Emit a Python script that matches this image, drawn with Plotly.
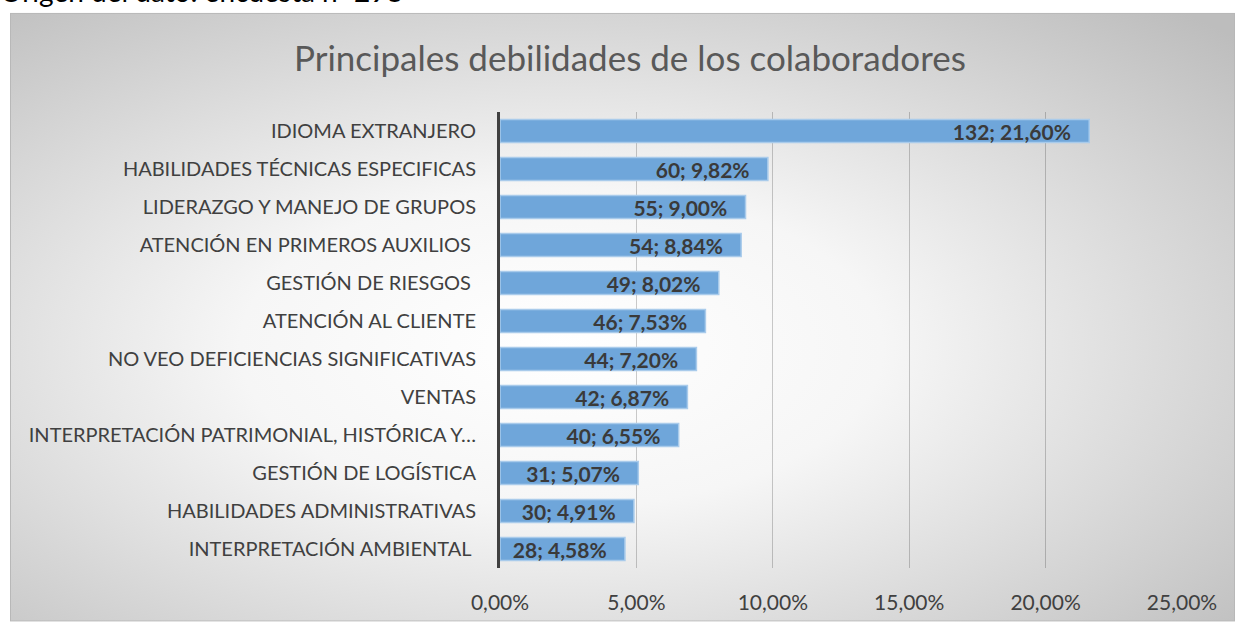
import base64
import plotly.graph_objects as go

categories = [
    "IDIOMA EXTRANJERO",
    "HABILIDADES TÉCNICAS ESPECIFICAS",
    "LIDERAZGO Y MANEJO DE GRUPOS",
    "ATENCIÓN EN PRIMEROS AUXILIOS\u00a0",
    "GESTIÓN DE RIESGOS\u00a0",
    "ATENCIÓN AL CLIENTE",
    "NO VEO DEFICIENCIAS SIGNIFICATIVAS",
    "VENTAS",
    "INTERPRETACIÓN PATRIMONIAL, HISTÓRICA Y…",
    "GESTIÓN DE LOGÍSTICA",
    "HABILIDADES ADMINISTRATIVAS",
    "INTERPRETACIÓN AMBIENTAL\u00a0",
]
counts = [132, 60, 55, 54, 49, 46, 44, 42, 40, 31, 30, 28]
percents = [21.60, 9.82, 9.00, 8.84, 8.02, 7.53, 7.20, 6.87, 6.55, 5.07, 4.91, 4.58]
tick_vals = [0, 0.05, 0.10, 0.15, 0.20, 0.25]
tick_text = ["0,00%", "5,00%", "10,00%", "15,00%", "20,00%", "25,00%"]

title_text = "Principales debilidades de los colaboradores"
source_text = "Origen del dato: encuesta n=298"

x_vals = [p / 100 for p in percents]
labels = [(f"{c}; {p:.2f}%".replace(".", ",")) + "\u00a0\u00a0\u00a0" for c, p in zip(counts, percents)]

# Radial gradient background (chart area)
svg = """<svg xmlns='http://www.w3.org/2000/svg' width='1225' height='614' viewBox='0 0 1225 614' preserveAspectRatio='none'>
<defs><radialGradient id='g' cx='0.45' cy='0.55' r='0.75' fx='0.45' fy='0.55'>
<stop offset='0' stop-color='#ffffff'/>
<stop offset='0.35' stop-color='#f6f6f6'/>
<stop offset='1' stop-color='#bdbdbd'/>
</radialGradient></defs>
<rect x='0' y='0' width='1225' height='614' fill='url(#g)'/>
<rect x='0.5' y='0.5' width='1224' height='613' fill='none' stroke='#b8b8b8' stroke-width='1'/>
</svg>"""
svg_uri = "data:image/svg+xml;base64," + base64.b64encode(svg.encode("utf-8")).decode("ascii")

L, R, T, B = 500, 53, 112, 54
W, H = 1235, 626
pw, ph = W - L - R, H - T - B


def px_x(px):
    return (px - L) / pw


def px_y(py):
    return (H - B - py) / ph


fig = go.Figure()
fig.add_trace(go.Bar(
    y=categories,
    x=x_vals,
    orientation="h",
    marker=dict(color="#6fa6da", line=dict(color="#a9cbeb", width=1.5)),
    width=0.6,
    text=labels,
    textposition="inside",
    insidetextanchor="end",
    textfont=dict(family="Lato", size=21, color="#3a3a3a", weight="bold"),
    constraintext="none",
    cliponaxis=False,
    hoverinfo="skip",
))

fig.update_layout(
    width=W, height=H,
    margin=dict(l=L, r=R, t=T, b=B, pad=0),
    paper_bgcolor="white",
    plot_bgcolor="rgba(0,0,0,0)",
    showlegend=False,
    images=[dict(
        source=svg_uri, xref="paper", yref="paper",
        x=px_x(10), y=px_y(12),
        sizex=(W - 10) / pw, sizey=(H - 12) / ph,
        sizing="stretch", xanchor="left", yanchor="top", layer="below",
    )],
    annotations=[
        dict(text=title_text, xref="paper", yref="paper",
             x=px_x(630), y=px_y(57), xanchor="center", yanchor="middle",
             showarrow=False, font=dict(family="Lato", size=35, color="#595959")),
        dict(text=source_text, xref="paper", yref="paper",
             x=px_x(-2), y=px_y(-10), xanchor="left", yanchor="middle",
             showarrow=False, font=dict(family="Lato", size=28, color="#000000")),
    ],
    xaxis=dict(
        range=[0, 0.25], tickvals=tick_vals, ticktext=tick_text,
        showgrid=True, gridcolor="rgba(0,0,0,0.2)", gridwidth=1,
        zeroline=False, showline=False, ticks="",
        ticklabelstandoff=20,
        tickfont=dict(family="Lato", size=21, color="#404040"),
        fixedrange=True,
    ),
    yaxis=dict(
        autorange="reversed", showgrid=False, zeroline=False,
        showline=True, linecolor="#404040", linewidth=3, ticks="",
        ticklabelstandoff=17,
        tickfont=dict(family="Lato", size=20, color="#404040"),
        fixedrange=True,
    ),
)

fig.write_html(
    "out.html",
    config={"displayModeBar": False},
    post_script="document.body.style.margin='0';document.body.style.overflow='hidden';",
)
